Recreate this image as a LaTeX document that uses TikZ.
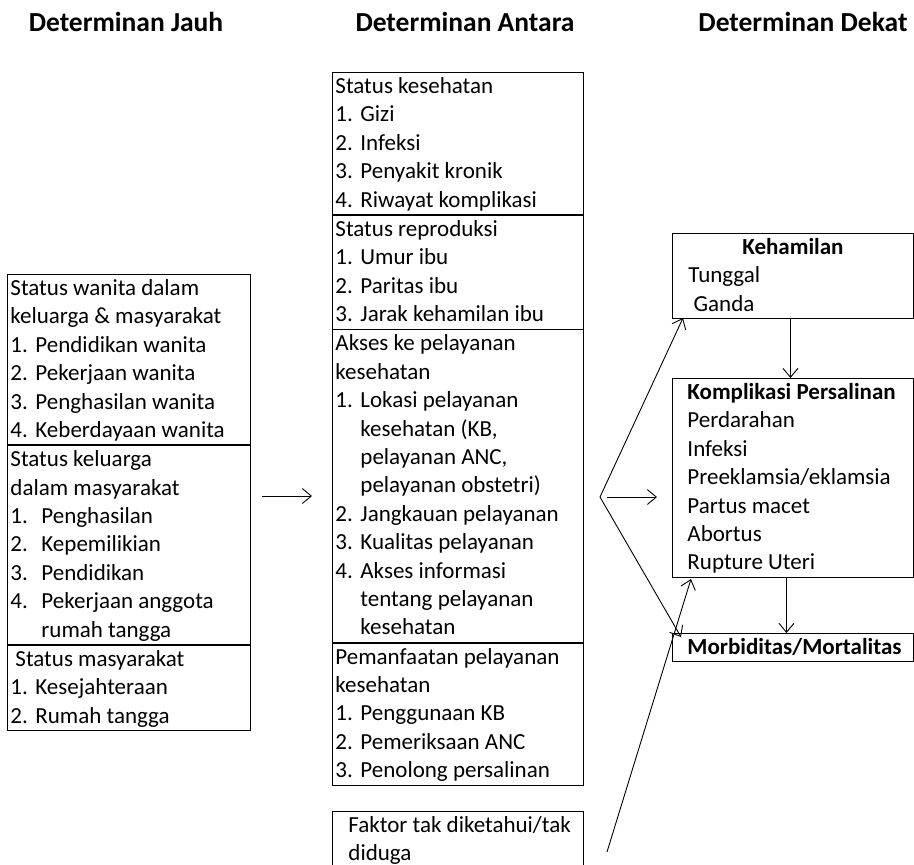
\documentclass[tikz,border=0pt]{standalone}
\usepackage{fontspec}
\setmainfont{Carlito}
\usetikzlibrary{arrows.meta}
\newcommand\Ls{\rule[-7.4pt]{0pt}{28.4pt}}
\newcommand\Num[2]{\makebox[#1][l]{#2}}
\tikzset{
  sec/.style={draw, line width=0.9pt, anchor=north west, inner xsep=3pt, inner ysep=0pt,
    align=flush left, font=\fontsize{23}{28.4}\selectfont},
  head/.style={anchor=base, font=\bfseries\fontsize{27.5}{32}\selectfont},
  arr/.style={line width=0.9pt, -{Straight Barb[length=9pt,width=15pt,line width=0.9pt]}},
  plain/.style={line width=0.9pt}
}
\begin{document}
\begin{tikzpicture}[x=1pt,y=-1pt]
\useasboundingbox (0,0) rectangle (914,865);
\clip (0,0) rectangle (914,865);
% headers
\node[head] (h1) at (126,31) {Determinan Jauh};
\node[head] (h2) at (465,31) {Determinan Antara};
\node[head] (h3) at (803,31) {Determinan Dekat};
% left column
\node[sec, text width=237pt] (L1) at (7,274) {%
\Ls Status wanita dalam\\
\Ls keluarga \& masyarakat\\
\Ls\Num{25pt}{1.}Pendidikan wanita\\
\Ls\Num{25pt}{2.}Pekerjaan wanita\\
\Ls\Num{25pt}{3.}Penghasilan wanita\\
\Ls\Num{25pt}{4.}Keberdayaan wanita};
\node[sec, text width=237pt] (L2) at (L1.south west) {%
\Ls Status keluarga\\
\Ls dalam masyarakat\\
\Ls\Num{31pt}{1.}Penghasilan\\
\Ls\Num{31pt}{2.}Kepemilikian\\
\Ls\Num{31pt}{3.}Pendidikan\\
\Ls\Num{31pt}{4.}Pekerjaan anggota\\
\Ls\hspace*{31pt}rumah tangga};
\node[sec, text width=237pt] (L3) at (L2.south west) {%
\Ls\hspace*{5pt}Status masyarakat\\
\Ls\Num{25pt}{1.}Kesejahteraan\\
\Ls\Num{25pt}{2.}Rumah tangga};
% middle column
\node[sec, text width=245pt] (M1) at (332,72) {%
\Ls Status kesehatan\\
\Ls\Num{25pt}{1.}Gizi\\
\Ls\Num{25pt}{2.}Infeksi\\
\Ls\Num{25pt}{3.}Penyakit kronik\\
\Ls\Num{25pt}{4.}Riwayat komplikasi};
\node[sec, text width=245pt] (M2) at (M1.south west) {%
\Ls Status reproduksi\\
\Ls\Num{25pt}{1.}Umur ibu\\
\Ls\Num{25pt}{2.}Paritas ibu\\
\Ls\Num{25pt}{3.}Jarak kehamilan ibu};
\node[sec, text width=245pt] (M3) at (M2.south west) {%
\Ls Akses ke pelayanan\\
\Ls kesehatan\\
\Ls\Num{25pt}{1.}Lokasi pelayanan\\
\Ls\hspace*{25pt}kesehatan (KB,\\
\Ls\hspace*{25pt}pelayanan ANC,\\
\Ls\hspace*{25pt}pelayanan obstetri)\\
\Ls\Num{25pt}{2.}Jangkauan pelayanan\\
\Ls\Num{25pt}{3.}Kualitas pelayanan\\
\Ls\Num{25pt}{4.}Akses informasi\\
\Ls\hspace*{25pt}tentang pelayanan\\
\Ls\hspace*{25pt}kesehatan};
\node[sec, text width=245pt] (M4) at (M3.south west) {%
\Ls Pemanfaatan pelayanan\\
\Ls kesehatan\\
\Ls\Num{25pt}{1.}Penggunaan KB\\
\Ls\Num{25pt}{2.}Pemeriksaan ANC\\
\Ls\Num{25pt}{3.}Penolong persalinan};
\node[sec, text width=245pt] (F) at (332,811) {%
\Ls\hspace*{13pt}Faktor tak diketahui/tak\\
\Ls\hspace*{13pt}diduga\\
\Ls};
% right column
\node[sec, text width=235pt] (K) at (672,233) {%
\Ls\hfill\textbf{Kehamilan}\hfill\null\\
\Ls\hspace*{13pt}Tunggal\\
\Ls\hspace*{13pt} Ganda};
\node[sec, text width=235pt] (P) at (672,378) {%
\Ls\hspace*{12pt}\textbf{Komplikasi Persalinan}\\
\Ls\hspace*{12pt}Perdarahan\\
\Ls\hspace*{12pt}Infeksi\\
\Ls\hspace*{12pt}Preeklamsia/eklamsia\\
\Ls\hspace*{12pt}Partus macet\\
\Ls\hspace*{12pt}Abortus\\
\Ls\hspace*{12pt}Rupture Uteri};
\node[sec, text width=235pt] (D) at (672,633) {%
\Ls\hspace*{12pt}\textbf{Morbiditas/Mortalitas}};
% connectors
\coordinate (a1) at (262,496);
\coordinate (a2) at (312,496);
\draw[arr] (a1) -- (a2);
\coordinate (apex) at (600,497);
\coordinate (kt) at (683,318);
\coordinate (dt) at (681,637);
\coordinate (m1) at (607,497);
\coordinate (m2) at (657,497);
\draw[arr] (apex) -- (kt);
\draw[arr] (apex) -- (dt);
\draw[arr] (m1) -- (m2);
\draw[arr] ([xshift=-2.5pt]K.south) -- ([xshift=-2.5pt]P.north);
\draw[arr] ([xshift=-6.5pt]P.south) -- ([xshift=-6.5pt]D.north);
\coordinate (b1) at (607,852);
\coordinate (b2) at (691,579);
\draw[arr] (b1) -- (b2);
\end{tikzpicture}
\end{document}
